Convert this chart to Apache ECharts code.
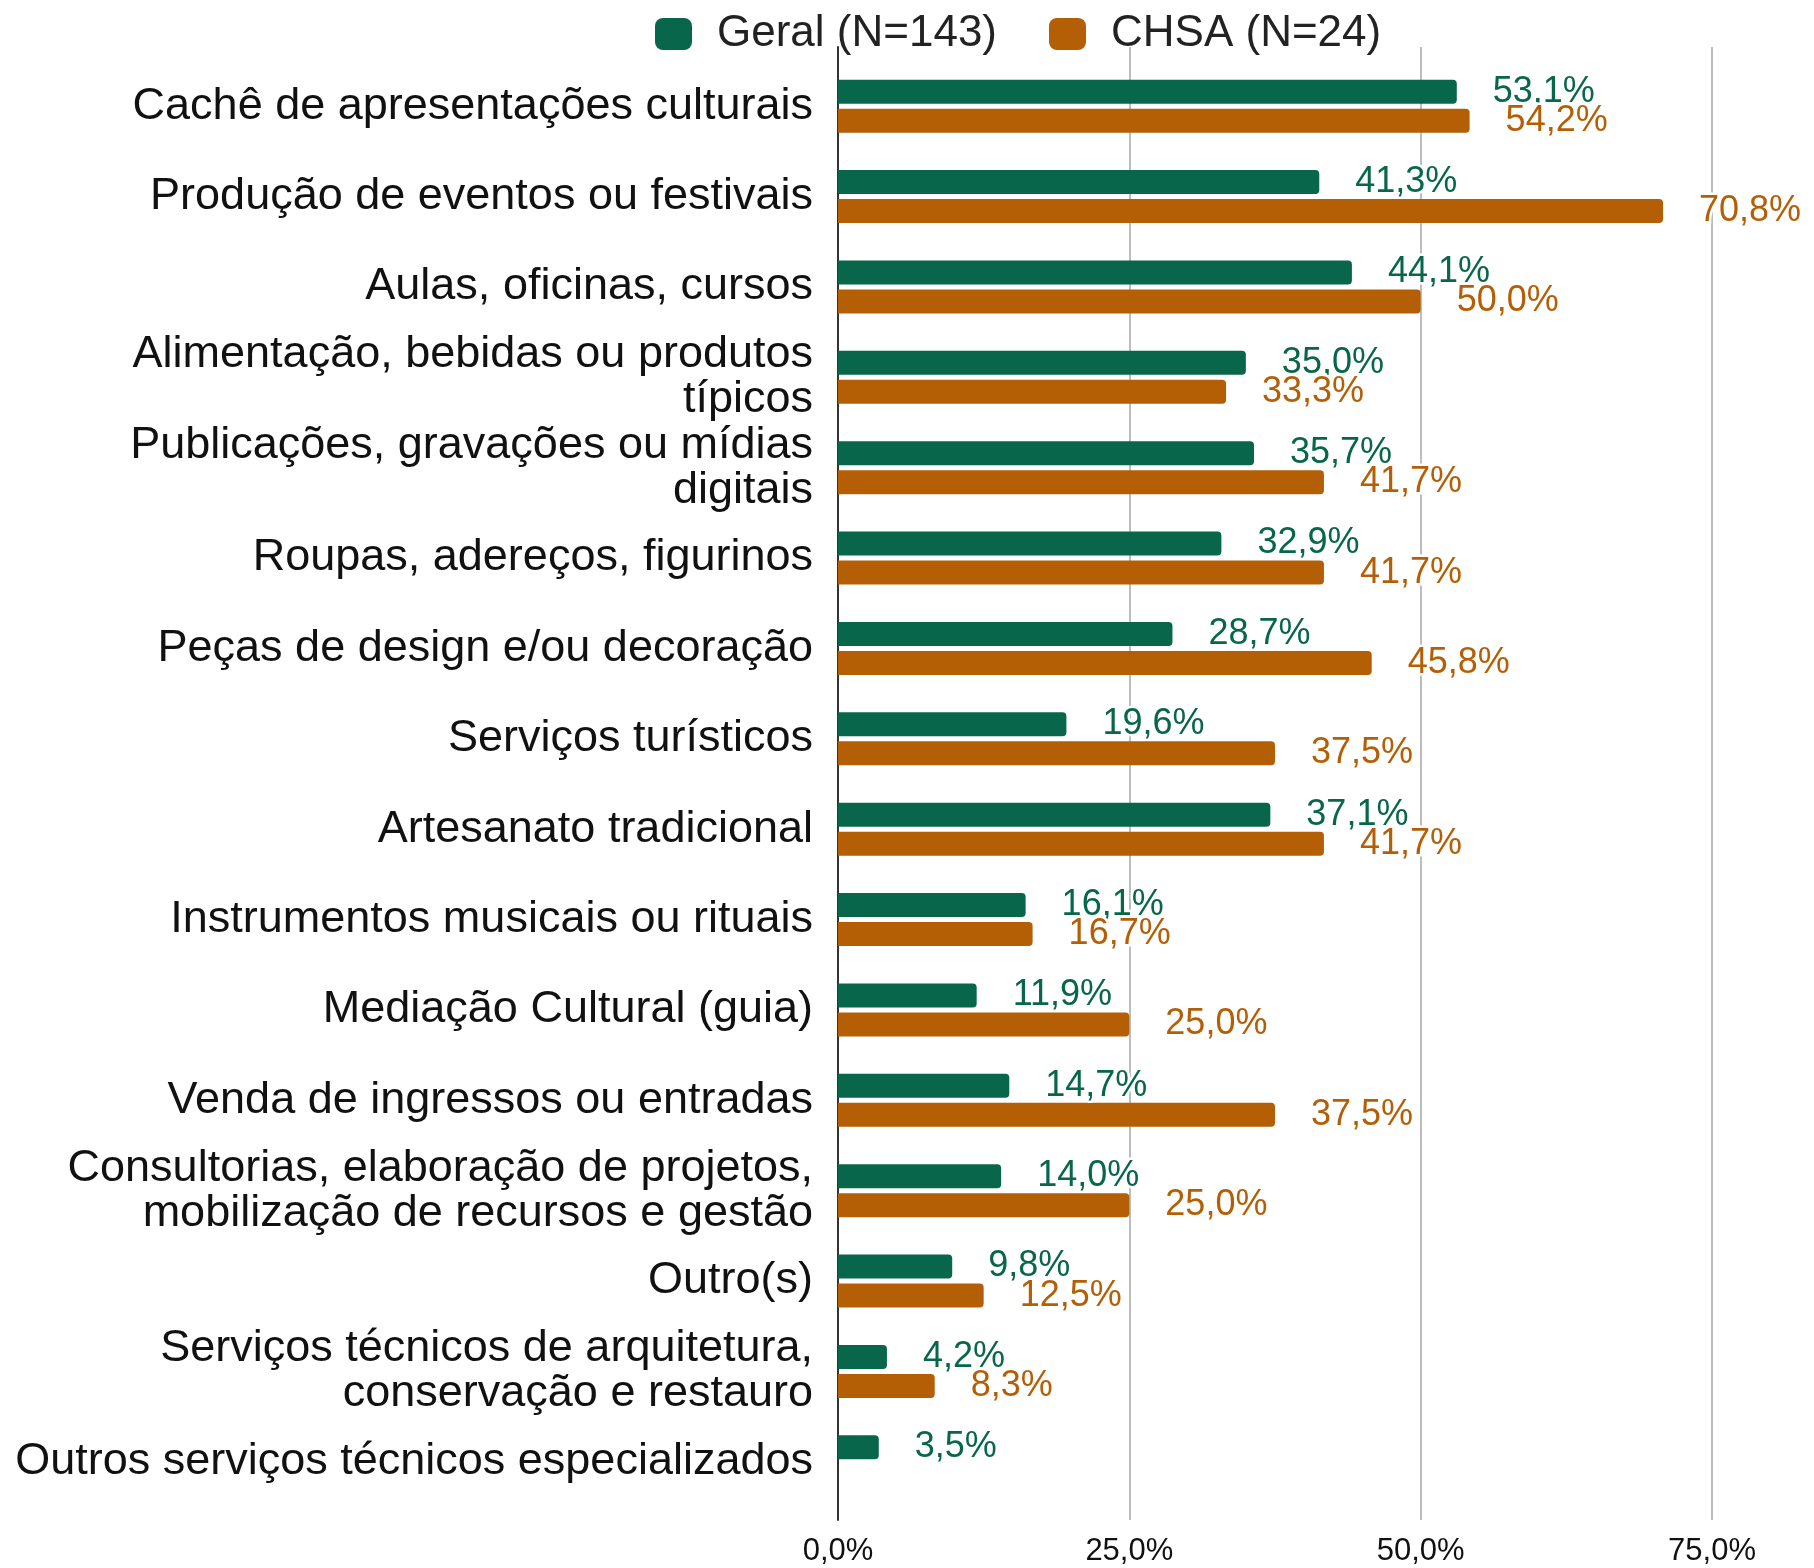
<!DOCTYPE html>
<html>
<head>
<meta charset="utf-8">
<script src="https://cdn.jsdelivr.net/npm/echarts@6/dist/echarts.min.js"></script>
<style>
html,body{margin:0;padding:0;background:#fff;}
#chart{width:1814px;height:1568px;}
</style>
</head>
<body>
<div id="chart"></div>
<script>
const categories = [
  "Cachê de apresentações culturais",
  "Produção de eventos ou festivais",
  "Aulas, oficinas, cursos",
  "Alimentação, bebidas ou produtos\ntípicos",
  "Publicações, gravações ou mídias\ndigitais",
  "Roupas, adereços, figurinos",
  "Peças de design e/ou decoração",
  "Serviços turísticos",
  "Artesanato tradicional",
  "Instrumentos musicais ou rituais",
  "Mediação Cultural (guia)",
  "Venda de ingressos ou entradas",
  "Consultorias, elaboração de projetos,\nmobilização de recursos e gestão",
  "Outro(s)",
  "Serviços técnicos de arquitetura,\nconservação e restauro",
  "Outros serviços técnicos especializados"
];
const seriesNames = ["Geral (N=143)", "CHSA (N=24)"];
const geral = [53.1, 41.3, 44.1, 35.0, 35.7, 32.9, 28.7, 19.6, 37.1, 16.1, 11.9, 14.7, 14.0, 9.8, 4.2, 3.5];
const chsa  = [54.2, 70.8, 50.0, 33.3, 41.7, 41.7, 45.8, 37.5, 41.7, 16.7, 25.0, 37.5, 25.0, 12.5, 8.3, 0];
const xTicks = [0, 25, 50, 75];

const GREEN = '#08664A';
const ORANGE = '#B45F06';
const FONT = '"Liberation Sans", Arial, sans-serif';
const fmt = v => v.toFixed(1).replace('.', ',') + '%';

const chart = echarts.init(document.getElementById('chart'), null, {renderer: 'canvas'});

function barSeries(name, data, color) {
  return {
    name: name,
    type: 'bar',
    xAxisIndex: 0,
    yAxisIndex: 0,
    data: data,
    barWidth: 24,
    barGap: '21%',
    itemStyle: {color: color, borderRadius: [0, 4, 4, 0]},
    label: {
      show: true,
      position: 'right',
      distance: 36,
      fontFamily: FONT,
      fontSize: 36,
      color: color,
      textBorderColor: '#fff',
      textBorderWidth: 5,
      formatter: p => (p.value ? fmt(p.value) : '')
    },
    z: 3
  };
}

chart.setOption({
  animation: false,
  backgroundColor: '#fff',
  legend: {
    left: 650,
    top: 7,
    itemWidth: 37,
    itemHeight: 32,
    itemGap: 52,
    icon: 'roundRect',
    textStyle: {fontFamily: FONT, fontSize: 44, color: '#222', padding: [0, 0, 0, 20]},
    data: seriesNames
  },
  grid: [
    {left: 838, right: 102, top: 61, bottom: 61, containLabel: false},
    {left: 838, right: 102, top: 47, bottom: 48, containLabel: false}
  ],
  xAxis: [
    {gridIndex: 0, type: 'value', min: 0, max: 75, show: false},
    {
      gridIndex: 1, type: 'value', min: xTicks[0], max: xTicks[xTicks.length - 1], interval: 25,
      axisLine: {show: false}, axisTick: {show: false},
      splitLine: {show: true, lineStyle: {color: '#bdbdbd', width: 2}},
      axisLabel: {fontFamily: FONT, fontSize: 31, color: '#111', margin: 16, formatter: v => fmt(v)}
    }
  ],
  yAxis: [
    {
      gridIndex: 0, type: 'category', inverse: true, data: categories,
      axisLine: {show: false}, axisTick: {show: false},
      axisLabel: {fontFamily: FONT, fontSize: 45, lineHeight: 45, color: '#111', margin: 25, align: 'right', padding: [6, 0, 0, 0]}
    },
    {
      gridIndex: 1, type: 'value', min: 0, max: 1,
      axisLine: {show: true, lineStyle: {color: '#333', width: 2}},
      axisTick: {show: false}, axisLabel: {show: false}, splitLine: {show: false}
    }
  ],
  series: [
    barSeries(seriesNames[0], geral, GREEN),
    barSeries(seriesNames[1], chsa, ORANGE)
  ]
});
</script>
</body>
</html>
